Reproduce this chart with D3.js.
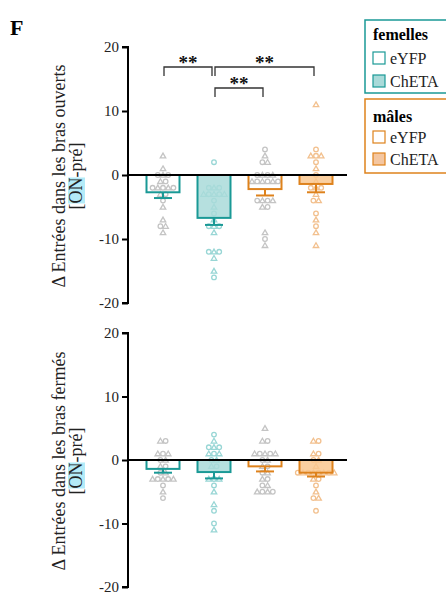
<!DOCTYPE html>
<html><head><meta charset="utf-8">
<script src="https://cdn.jsdelivr.net/npm/d3@7"></script>
<style>
body{margin:0;background:#fff}
svg{display:block}
svg text{font-family:"Liberation Serif","Times New Roman",serif}
</style>
</head><body>
<svg id="chart" width="446" height="598"></svg>
<script>
// groups: femelles eYFP, femelles ChETA, mâles eYFP, mâles ChETA
const groups = ["fEYFP", "fChETA", "mEYFP", "mChETA"];
const tickValues = [20, 10, 0, -10, -20];

const openArms = [
  [3, 1, 0, 0, 0, -1, -1, -2, -2, -2, -2, -2, -3, -3, -4, -5, -7, -8, -8, -9],
  [2, -2, -2, -2, -3, -3, -3, -3, -3, -4, -5, -6, -7, -8, -8, -8, -9, -12, -12, -12, -13, -15, -16],
  [4, 3, 2, 2, 0, 0, 0, 0, -1, -1, -1, -1, -1, -1, -4, -4, -4, -4, -5, -5, -9, -10, -11],
  [11, 4, 3, 3, 3, 2, 1, 0, -1, -2, -2, -2, -3, -4, -4, -6, -7, -8, -9, -11]
];
const openMean = [-2.7, -6.7, -2.2, -1.4];
const openSem = [0.9, 1.1, 1.0, 1.3];

const closedArms = [
  [3, 3, 1, 1, 1, 0, 0, -1, -1, -2, -2, -3, -3, -3, -3, -3, -4, -5, -6],
  [4, 3, 2, 2, 2, 1, 1, 1, 0, 0, -1, -1, -3, -3, -3, -4, -5, -7, -8, -10, -11],
  [5, 3, 3, 1, 1, 1, 1, 1, 0, 0, -1, -1, -2, -2, -3, -3, -4, -4, -5, -5, -5, -5],
  [3, 3, 1, 1, 0, 0, -1, -2, -2, -2, -2, -2, -2, -2, -2, -3, -3, -4, -5, -6, -6, -8]
];
const closedMean = [-1.4, -1.9, -1.0, -2.0];
const closedSem = [0.6, 1.0, 0.8, 0.6];

// significance: [from group, to group, row]
const sigPairs = [[0, 1, 0], [1, 3, 0], [1, 2, 1]];
const sigLabel = "**";

const lineCol = ["#1a9996", "#1a9996", "#de821c", "#de821c"];
const barFill = [null, "#a9dad9", null, "#f9c78f"];
const ptCol = ["#c4c4c4", "#98d6d5", "#c4c4c4", "#f2c08e"];

const serif = "Liberation Serif, Times New Roman, serif";
const svg = d3.select("#chart");
const x = d3.scalePoint().domain(groups).range([163, 316]);
const barW = 33;

function drawPanel(top, bottom, pts, means, sems, titleLine) {
  const y = d3.scaleLinear().domain([-20, 20]).range([bottom, top]);
  const g = svg.append("g");

  // points (beeswarm rows)
  pts.forEach((vals, gi) => {
    const rows = d3.group(vals, v => v);
    rows.forEach((row, v) => {
      row.forEach((_, i) => {
        const cx = x(groups[gi]) + (i - (row.length - 1) / 2) * 5.2;
        const cy = y(v);
        const k = (i + Math.round(v)) % 2;
        if (k === 0) {
          g.append("circle").attr("cx", cx).attr("cy", cy).attr("r", 2.3)
            .attr("fill", "none").attr("stroke", ptCol[gi]).attr("stroke-width", 1.3);
        } else {
          g.append("path").attr("d", d3.symbol(d3.symbolTriangle, 13)())
            .attr("transform", `translate(${cx},${cy + 0.5})`)
            .attr("fill", "none").attr("stroke", ptCol[gi]).attr("stroke-width", 1.3);
        }
      });
    });
  });

  // bars
  g.selectAll("rect.bar").data(means).enter().append("rect")
    .attr("class", "bar")
    .attr("x", (d, i) => x(groups[i]) - barW / 2)
    .attr("y", d => Math.min(y(0), y(d)))
    .attr("width", barW)
    .attr("height", d => Math.abs(y(d) - y(0)))
    .attr("fill", (d, i) => barFill[i] || "none")
    .attr("fill-opacity", 0.85)
    .attr("stroke", (d, i) => lineCol[i]).attr("stroke-width", 2);

  // error bars (outer side only)
  means.forEach((m, i) => {
    const cx = x(groups[i]);
    g.append("line").attr("x1", cx).attr("x2", cx)
      .attr("y1", y(m)).attr("y2", y(m - sems[i]))
      .attr("stroke", lineCol[i]).attr("stroke-width", 2);
    g.append("line").attr("x1", cx - 9).attr("x2", cx + 9)
      .attr("y1", y(m - sems[i])).attr("y2", y(m - sems[i]))
      .attr("stroke", lineCol[i]).attr("stroke-width", 2);
  });

  // zero line
  g.append("line").attr("x1", 128).attr("x2", 347)
    .attr("y1", y(0)).attr("y2", y(0))
    .attr("stroke", "#000").attr("stroke-width", 2);

  // y axis
  const ax = g.append("g").attr("transform", "translate(128,0)")
    .call(d3.axisLeft(y).tickValues(tickValues).tickSize(6).tickPadding(3)
      .tickFormat(d => d < 0 ? "-" + Math.abs(d) : d));
  ax.attr("font-family", serif).attr("font-size", 15);
  ax.select(".domain").attr("stroke", "#000").attr("stroke-width", 2)
    .attr("d", `M-6,${y(20)}H0V${y(-20)}H-6`);
  ax.selectAll(".tick line").attr("stroke", "#000").attr("stroke-width", 2);
  ax.selectAll(".tick text").attr("fill", "#222");

  // axis title
  const tg = g.append("g").attr("transform", `translate(65,${y(0) + 1}) rotate(-90)`)
    .attr("font-family", serif).attr("font-size", 18).attr("fill", "#222");
  tg.append("text").attr("text-anchor", "middle").attr("y", 0).text(titleLine);
  const t2 = tg.append("text").attr("text-anchor", "middle").attr("y", 17).text("[ON-pré]");
  const node = t2.node();
  const p = node.getStartPositionOfChar(1);
  const w = node.getSubStringLength(1, 2);
  tg.insert("rect", "text").attr("x", p.x).attr("y", 17 - 14).attr("width", w)
    .attr("height", 17).attr("fill", "#b3ebf8");
  return y;
}

drawPanel(47, 303, openArms, openMean, openSem, "\u0394 Entrées dans les bras ouverts");
drawPanel(333, 587, closedArms, closedMean, closedSem, "\u0394 Entrées dans les bras fermés");

// significance brackets (top panel)
const rowY = [67, 88];
sigPairs.forEach(([a, b, r]) => {
  const x1 = x(groups[a]) + 1, x2 = x(groups[b]) - 2;
  const yy = rowY[r];
  svg.append("path").attr("d", `M${x1},${yy + 9}V${yy}H${x2}V${yy + 9}`)
    .attr("fill", "none").attr("stroke", "#333").attr("stroke-width", 1.3);
  svg.append("text").attr("x", (x1 + x2) / 2).attr("y", yy + 2)
    .attr("text-anchor", "middle").attr("font-size", 19).attr("font-weight", "bold")
    .attr("fill", "#111").text(sigLabel);
});

// panel letter
svg.append("text").attr("x", 10).attr("y", 35).attr("font-size", 22)
  .attr("font-weight", "bold").text("F");

// legend
const legends = [
  {title: "femelles", top: 20, bottom: 93, col: "#1a9996", fill: "#a9dad9", tb: 40, sq: [52, 75]},
  {title: "mâles", top: 99, bottom: 173, col: "#de821c", fill: "#f4c6a0", tb: 122, sq: [131, 153]}
];
const legendItems = ["eYFP", "ChETA"];
legends.forEach(L => {
  svg.append("rect").attr("x", 365).attr("y", L.top).attr("width", 90)
    .attr("height", L.bottom - L.top).attr("fill", "none")
    .attr("stroke", L.col).attr("stroke-width", 1.5);
  svg.append("text").attr("x", 373).attr("y", L.tb).attr("font-size", 16)
    .attr("font-weight", "bold").text(L.title);
  legendItems.forEach((name, i) => {
    svg.append("rect").attr("x", 373).attr("y", L.sq[i]).attr("width", 12).attr("height", 12)
      .attr("fill", i ? L.fill : "#fff").attr("stroke", L.col).attr("stroke-width", 1.2);
    svg.append("text").attr("x", 390).attr("y", L.sq[i] + 12).attr("font-size", 16)
      .attr("fill", "#222").text(name);
  });
});
</script>
</body></html>
